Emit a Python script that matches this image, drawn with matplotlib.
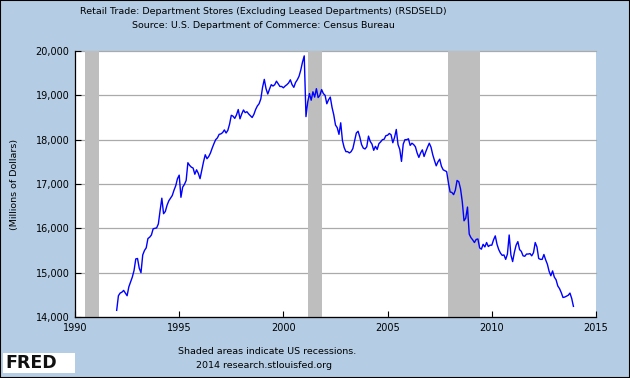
import numpy as np
import matplotlib
matplotlib.use("Agg")
import matplotlib.pyplot as plt
from matplotlib.ticker import FuncFormatter
from matplotlib.patches import Rectangle

# monthly values, Jan 1992 .. Dec 2013 (millions of dollars)
start_year = 1992
sales = [
    14150, 14480, 14540, 14560, 14600, 14540, 14480, 14680, 14790, 14900, 15050, 15310,  # 1992
    15320, 15100, 15000, 15400, 15500, 15560, 15770, 15800, 15850, 15990, 16000, 16010,  # 1993
    16100, 16400, 16680, 16330, 16380, 16520, 16620, 16680, 16740, 16860, 16960, 17120,  # 1994
    17200, 16700, 16930, 16990, 17080, 17480, 17420, 17380, 17360, 17220, 17320, 17240,  # 1995
    17120, 17310, 17500, 17660, 17570, 17620, 17700, 17810, 17910, 18000, 18040, 18120,  # 1996
    18130, 18160, 18220, 18150, 18210, 18350, 18550, 18530, 18480, 18560, 18680, 18470,  # 1997
    18580, 18670, 18610, 18630, 18580, 18540, 18500, 18570, 18680, 18760, 18810, 18920,  # 1998
    19180, 19360, 19150, 19030, 19140, 19240, 19210, 19240, 19320, 19260, 19200, 19200,  # 1999
    19170, 19210, 19240, 19280, 19350, 19240, 19180, 19290, 19350, 19430, 19570, 19750,  # 2000
    19890, 18520, 18850, 19040, 18890, 19080, 18960, 19150, 18950, 19000, 19130, 19040,  # 2001
    19000, 18810, 18900, 18960, 18730, 18560, 18330, 18270, 18120, 18380, 17980, 17820,  # 2002
    17730, 17730, 17700, 17730, 17800, 17980, 18150, 18190, 18060, 17890, 17810, 17790,  # 2003
    17840, 18080, 17960, 17900, 17760, 17850, 17780, 17910, 17950, 18000, 18010, 18090,  # 2004
    18100, 18140, 18110, 17930, 18050, 18230, 17890, 17780, 17510, 17900, 18000, 18000,  # 2005
    18020, 17870, 17920, 17890, 17840, 17700, 17600, 17700, 17770, 17620, 17730, 17830,  # 2006
    17920, 17830, 17660, 17530, 17410, 17500, 17560, 17400, 17320, 17300, 17280, 17030,  # 2007
    16820, 16810, 16760, 16860, 17080, 17050, 16890, 16600, 16170, 16230, 16480, 15870,  # 2008
    15790, 15740, 15680, 15750, 15760, 15560, 15530, 15640, 15580, 15680, 15590, 15620,  # 2009
    15620, 15740, 15830, 15640, 15520, 15440, 15390, 15400, 15300, 15420, 15850, 15400,  # 2010
    15250, 15460, 15620, 15700, 15520, 15480, 15380, 15370, 15420, 15420, 15430, 15380,  # 2011
    15450, 15680, 15580, 15320, 15300, 15300, 15410, 15290, 15190, 15030, 14930, 15040,  # 2012
    14900, 14840, 14700, 14640, 14550, 14440, 14450, 14470, 14490, 14540, 14420, 14240,  # 2013
]
years = start_year + np.arange(len(sales)) / 12.0

recessions = [(1990 + 6/12, 1991 + 2/12),
              (2001 + 2/12, 2001 + 10/12),
              (2007 + 11/12, 2009 + 5/12)]
x_ticks = [1990, 1995, 2000, 2005, 2010, 2015]
y_ticks = [14000, 15000, 16000, 17000, 18000, 19000, 20000]

bg = '#b4cde4'
W, H = 630, 378
fs = 6.8
fig = plt.figure(figsize=(W/100, H/100), dpi=100, facecolor=bg)

ax = fig.add_axes([75/W, 1 - 317/H, (596 - 75)/W, (317 - 51)/H])
ax.set_facecolor('white')
ax.set_axisbelow(True)
ax.grid(axis='y', color='#aaaaaa', lw=0.9)
for gl in ax.get_ygridlines():
    gl.set_clip_on(False)

for s, e in recessions:
    ax.axvspan(s, e, color='#bebebe', lw=0, zorder=1)

ax.plot(years, sales, color='#0000ff', lw=1.0, zorder=2)

ax.set_xlim(1990, 2015)
ax.set_ylim(14000, 20000)
ax.set_xticks(x_ticks)
ax.set_yticks(y_ticks)
ax.yaxis.set_major_formatter(FuncFormatter(lambda v, p: f'{int(v):,}'))
for side in ['top', 'right']:
    ax.spines[side].set_visible(False)
for side in ['left', 'bottom']:
    ax.spines[side].set_color('black')
    ax.spines[side].set_linewidth(0.9)
ax.tick_params(direction='in', length=4, width=0.8, labelsize=fs + 0.2, colors='black')
ax.tick_params(axis='y', pad=4)
ax.tick_params(axis='x', pad=4)

fig.text(263/W, 1 - 12/H, 'Retail Trade: Department Stores (Excluding Leased Departments) (RSDSELD)',
         ha='center', va='center', fontsize=fs)
fig.text(263/W, 1 - 25/H, 'Source: U.S. Department of Commerce: Census Bureau',
         ha='center', va='center', fontsize=fs)
fig.text(15/W, 1 - 184/H, '(Millions of Dollars)', rotation=90,
         ha='center', va='center', fontsize=fs)
fig.text(267/W, 1 - 351/H, 'Shaded areas indicate US recessions.',
         ha='center', va='center', fontsize=fs)
fig.text(264/W, 1 - 365/H, '2014 research.stlouisfed.org',
         ha='center', va='center', fontsize=fs)

# FRED logo
fig.patches.append(Rectangle((3/W, 1 - 373/H), 72/W, 20/H, transform=fig.transFigure,
                             facecolor='white', edgecolor='none'))
fig.text(5/W, 1 - 363.5/H, 'FRED', fontsize=12.5, fontweight='bold',
         ha='left', va='center', color='#111111')
logo_blue = [1, 3, 2, 5, 4, 7]
logo_green = [0, 2, 1, 3, 2.5, 5]
icon = fig.add_axes([59/W, 1 - 372/H, 14/W, 16/H])
icon.set_facecolor('#e6ebee')
icon.plot(logo_blue, color='#6a8fc0', lw=0.6)
icon.plot(logo_green, color='#7dba4a', lw=0.6)
icon.set_xticks([])
icon.set_yticks([])
for sp in icon.spines.values():
    sp.set_visible(False)

fig.patches.append(Rectangle((0, 0), 1, 1, transform=fig.transFigure,
                             fill=False, edgecolor='black', lw=1.5))

fig.savefig('out.png', dpi=100, facecolor=bg)
